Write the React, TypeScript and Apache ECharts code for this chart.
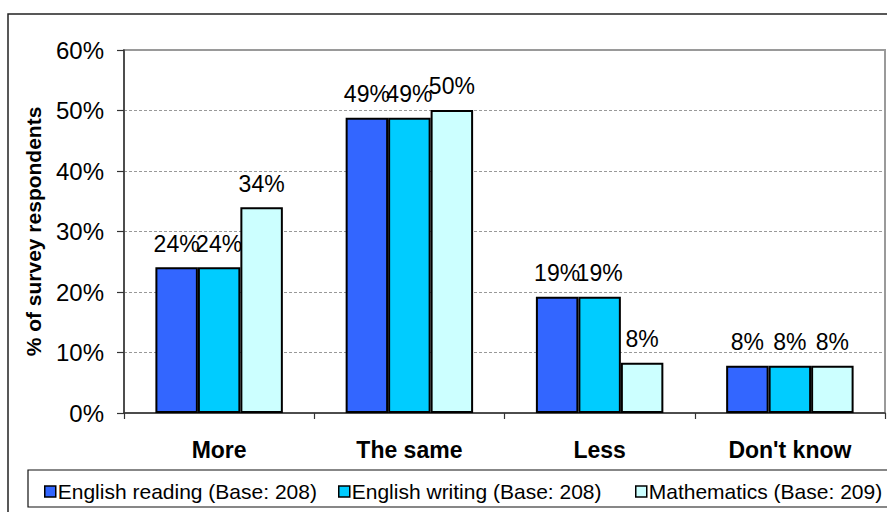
import React, { useEffect, useRef } from "react";
import * as echarts from "echarts";

const categories = ["More", "The same", "Less", "Don't know"];
const seriesNames = [
  "English reading (Base: 208)",
  "English writing (Base: 208)",
  "Mathematics (Base: 209)",
];
const englishReading = [24.1, 48.8, 19.2, 7.8];
const englishWriting = [24.1, 48.8, 19.2, 7.8];
const mathematics = [34.0, 50.1, 8.3, 7.8];
const yTicks = [0, 10, 20, 30, 40, 50, 60];
const colors = ["#3366FF", "#00CCFF", "#CCFFFF"];
const yAxisTitle = "% of survey respondents";

const FONT = "Arial, 'Liberation Sans', sans-serif";
const legendLefts = [39, 333, 630];

export default function App() {
  const ref = useRef<HTMLDivElement>(null);
  useEffect(() => {
    if (!ref.current) return;
    const chart = echarts.init(ref.current, null, { renderer: "svg" });
    const dataSets = [englishReading, englishWriting, mathematics];
    chart.setOption({
      animation: false,
      textStyle: { fontFamily: FONT },
      grid: {
        left: 124,
        right: 2,
        top: 50,
        bottom: 99,
        show: true,
        borderColor: "#9a9a9a",
        borderWidth: 2,
        backgroundColor: "transparent",
      },
      graphic: [
        {
          type: "rect",
          shape: { x: 8, y: 14, width: 1000, height: 1000 },
          style: { fill: "none", stroke: "#222", lineWidth: 1.5 },
          silent: true,
          z: 0,
        },
        {
          type: "rect",
          shape: { x: 28, y: 470, width: 1000, height: 37 },
          style: { fill: "#fff", stroke: "#111", lineWidth: 1.2 },
          silent: true,
          z: 0,
        },
      ],
      legend: seriesNames.map((name, i) => ({
        left: legendLefts[i],
        top: 476,
        itemWidth: 11,
        itemHeight: 11,
        icon: "rect",
        data: [name],
        textStyle: { fontFamily: FONT, fontSize: 21, color: "#000", padding: [0, 0, 0, -3] },
        itemStyle: { borderColor: "#000", borderWidth: 1.5 },
      })),
      xAxis: {
        type: "category",
        data: categories,
        axisLine: { lineStyle: { color: "#333", width: 1.5 } },
        axisTick: { show: true, length: 6, lineStyle: { color: "#333", width: 1.2 } },
        axisLabel: {
          margin: 25,
          fontFamily: FONT,
          fontSize: 23,
          fontWeight: "bold",
          color: "#000",
        },
      },
      yAxis: {
        type: "value",
        min: yTicks[0],
        max: yTicks[yTicks.length - 1],
        interval: 10,
        name: yAxisTitle,
        nameLocation: "middle",
        nameGap: 80,
        nameTextStyle: { fontFamily: FONT, fontSize: 21, fontWeight: "bold", color: "#000" },
        axisLine: { show: true, lineStyle: { color: "#333", width: 1.5 } },
        axisTick: { show: true, length: 7, lineStyle: { color: "#333", width: 1.2 } },
        axisLabel: {
          margin: 20,
          fontFamily: FONT,
          fontSize: 24,
          color: "#000",
          formatter: "{value}%",
        },
        splitLine: { lineStyle: { color: "#999", type: [3, 2], width: 1 } },
      },
      series: seriesNames.map((name, i) => ({
        name,
        type: "bar",
        data: dataSets[i],
        barGap: "0%",
        barCategoryGap: "33%",
        itemStyle: { color: colors[i], borderColor: "#000", borderWidth: 2 },
        label: {
          show: true,
          position: "top",
          distance: 12,
          fontFamily: FONT,
          fontSize: 23,
          color: "#000",
          formatter: (p: any) => `${Math.round(p.value)}%`,
        },
      })),
    });
    return () => chart.dispose();
  }, []);
  return (
    <div
      ref={ref}
      style={{ position: "fixed", left: 0, top: 0, width: 887, height: 512, background: "#fff" }}
    />
  );
}
